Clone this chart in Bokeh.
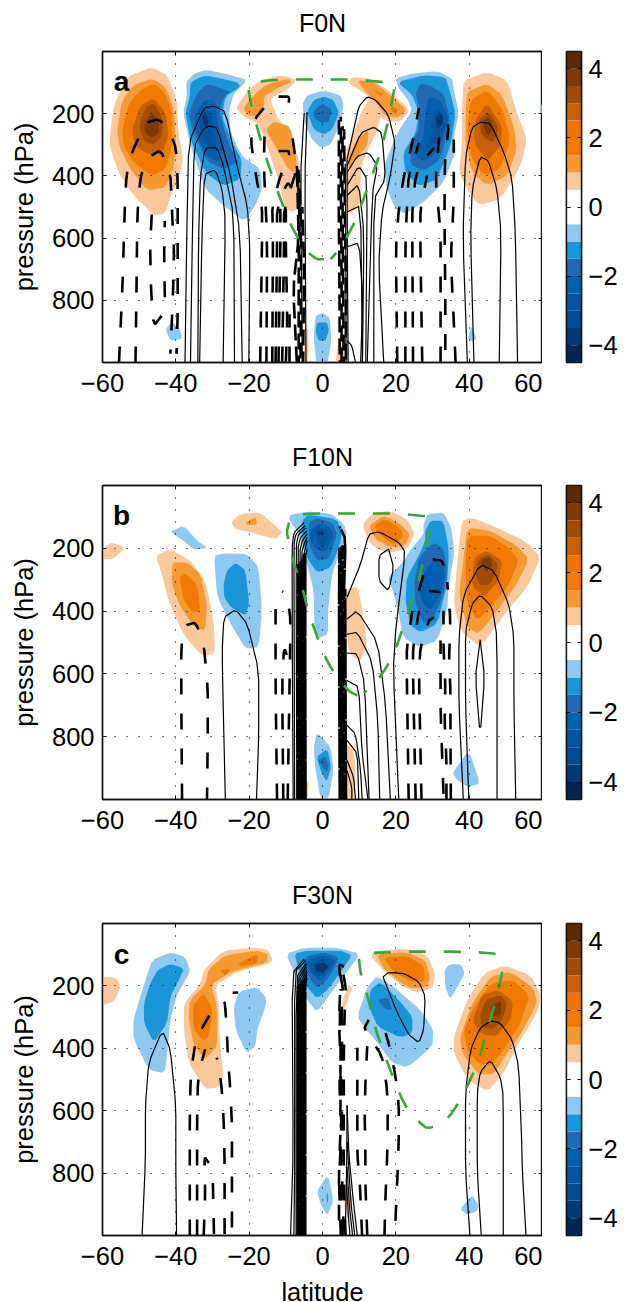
from bokeh.plotting import figure
from bokeh.layouts import column, row
from bokeh.models import LinearAxis, FixedTicker, Range1d
from bokeh.core.properties import value
from bokeh.embed import file_html
from bokeh.resources import INLINE

FONT = "Liberation Sans"
LEVELS = [-4.5,-4,-3.5,-3,-2.5,-2,-1.5,-1,-0.5,0.5,1,1.5,2,2.5,3,3.5,4,4.5]
BAND_COLORS = ["#02264f","#033a75","#004a90","#0055a0","#0060b0","#2069b5","#1a96d8","#8fc8f0","#ffffff",
               "#fbc89b","#f59a33","#f07a00","#ef7300","#c75f05","#a04c05","#7d3a05","#5a2a05"]
COL = {"O1":"#fbc89b","O2":"#f59a33","O3":"#f07a00","O5":"#c75f05","O6":"#a04c05","O7":"#7d3a05",
       "B1":"#8fc8f0","B2":"#1a96d8","B3":"#2069b5","B4":"#0060b0","B5":"#0055a0","B6":"#033a75"}
X_TICKS = [-60,-40,-20,0,20,40,60]
Y_TICKS = [200,400,600,800]
CB_TICKS = [-4,-2,0,2,4]

# ---------------- panel a: filled regions (latitude, hPa)
a_o1 = [(-58,273),(-57,177),(-53.4,82),(-46.5,50),(-42.4,76),(-39.7,156),(-39.3,262),(-38,347),(-39.3,411),(-41,453),(-42.9,522),(-46,526),(-51.5,464),(-55.6,390),(-58,305)]
a_o2 = [(-56,251),(-54.6,156),(-51.5,108),(-46.5,87),(-42.8,113),(-40.5,188),(-40,294),(-40.5,368),(-42.8,437),(-47.8,447),(-52.4,378),(-55.5,304)]
a_o3 = [(-54.6,251),(-52.8,166),(-49.6,124),(-46,103),(-42.8,135),(-41,198),(-41,304),(-42.8,378),(-46.5,400),(-51.5,357),(-54.2,304)]
a_o5 = [(-52,251),(-49.6,172),(-46,150),(-42.8,198),(-42,272),(-43.7,325),(-47.4,331),(-51,304)]
a_o6 = [(-50,241),(-48.3,182),(-46,166),(-43.7,209),(-43.7,272),(-46,299),(-48.7,288)]
a_o7 = [(-48.7,235),(-46.5,198),(-44.6,225),(-44.6,262),(-46.5,278),(-48.3,262)]
a_b1 = [(-37.2,98),(-35,71),(-31.5,58),(-25,76),(-20.5,92),(-24.2,135),(-25.5,188),(-25,262),(-22,336),(-17,378),(-16.5,442),(-18.3,495),(-21.3,546),(-27,495),(-32,442),(-36,304),(-38,198),(-37,145)]
a_b2 = [(-36,98),(-32,76),(-23.3,98),(-22.4,113),(-26.5,145),(-27.4,209),(-24.6,294),(-22,347),(-22.4,410),(-27,433),(-32,389),(-36,283),(-37.4,198),(-36.2,145)]
a_b3 = [(-34.2,135),(-31.5,103),(-25,129),(-26.5,140),(-28.3,188),(-26,283),(-23.3,357),(-27,378),(-31.5,352),(-35.5,251),(-36.5,198)]
a_b4 = [(-35,209),(-32.4,156),(-29.2,156),(-28.7,219),(-27,304),(-28.3,357),(-31.5,336),(-34.2,272)]
a_b5 = [(-33.7,209),(-32,182),(-30,209),(-29.6,272),(-28.3,325),(-31,309),(-33.3,262)]
a_b6 = [(-32.8,209),(-32,198),(-31,219),(-31.5,246),(-32.5,235)]
a_m1 = [(-23.7,182),(-20.5,129),(-17,92),(-11,76),(-7,92),(-9.6,124),(-14.2,150),(-13.7,172),(-12,219),(-8.7,262),(-6.5,347),(-5.5,453),(-6.5,506),(-8.7,516),(-10.5,495),(-11.5,431),(-14.2,336),(-16,272),(-17.8,230),(-21.5,209)]
a_m2 = [(-21.6,182),(-18.7,140),(-15.5,108),(-9.6,87),(-8.3,98),(-11.5,113),(-16,145),(-16,177),(-17.8,209),(-20.5,204)]
a_m3 = [(-13.3,225),(-8.7,241),(-7,357),(-7.8,389),(-9.6,373),(-12.4,315),(-15.5,251)]
a_r1 = [(6.7,98),(8.5,82),(13,87),(18.5,129),(23.8,188),(21.3,225),(17.6,225),(15.8,209),(15,251),(10.4,368),(10.4,495),(6.7,527),(6.3,325),(8.5,262),(10.4,198),(12.6,156),(12.2,140)]
a_r2 = [(9.5,92),(14,98),(19,145),(23,188),(20.4,214),(16.7,204),(15,166),(11.3,124)]
a_r3 = [(7.2,336),(9.5,283),(12.6,251),(12.2,304),(9.5,336),(7.2,389)]
a_r4 = [(14,124),(16.7,135),(15.8,145)]
a_r5 = [(18.4,172),(20.8,188),(19,198)]
a_c1 = [(-5.5,172),(-4.2,140),(.4,126),(4.9,140),(5.8,172),(4.5,241),(2.2,299),(-.5,310),(-2.8,283),(-4.6,241)]
a_c2 = [(-4.2,193),(-2.4,156),(.4,145),(3,156),(4.5,198),(2.6,251),(.4,267),(-2.4,251)]
a_c3 = [(-2.5,193),(-.1,166),(2.6,188),(1.7,225),(-.1,230),(-1.9,219)]
a_d1 = [(-2.4,924),(-1.9,850),(-.1,840),(2,856),(2.4,930),(1.3,1010),(-1.5,1010)]
a_d2 = [(-1.9,898),(-1.5,871),(1.3,871),(1.7,898),(.8,930),(-1,930)]
a_s1 = [(-5.5,1010),(-4.2,866),(-3.7,951),(-4.2,1010)]
a_s2 = [(3.5,1010),(4.5,908),(6.7,930),(6.7,1010)]
a_s3 = [(-42.8,893),(-41,868),(-38.7,898),(-38.3,924),(-41.5,930)]
a_s4 = [(39.6,924),(40.6,882),(42,924),(40.8,932)]
a_s5 = [(59.3,182),(60.5,150),(60.5,203),(59.5,198)]
a_e1 = [(19.9,87),(24.5,71),(31.3,63),(35.4,87),(35.8,124),(37.2,198),(35.8,272),(36.3,325),(33,421),(27.6,484),(22.6,522),(19.9,506),(17.6,442),(16.7,368),(20.4,262),(24.5,188),(23,150),(20.8,119)]
a_e2 = [(20.4,98),(27.6,76),(33.5,82),(34.5,119),(36.3,198),(34.9,304),(31.3,410),(26.3,434),(22.6,389),(22,325),(25.4,262),(26.3,198),(24.5,140)]
a_e3 = [(26.7,103),(29,108),(33,135),(34.9,219),(32.2,347),(27.6,384),(24,363),(24,304),(26.3,251),(26.3,177),(25.4,135)]
a_e4 = [(29,145),(32.2,156),(34.5,219),(31.3,325),(27.6,352),(25.4,336),(27.6,272),(28,198)]
a_e5 = [(30.4,188),(32.2,188),(33.5,241),(31.3,294),(28.5,310),(29.5,251)]
a_e6 = [(30.8,209),(32.6,198),(33,230),(31.3,251)]
a_w1 = [(38.5,92),(44.9,66),(50.4,92),(53,198),(55.8,283),(54,368),(48.5,474),(42.6,495),(39.5,442),(37.2,389),(38,304),(38,188)]
a_w2 = [(39.5,129),(44.9,103),(49,140),(52.2,241),(53,315),(50.4,400),(44.9,431),(40.8,389),(39,294),(39,188)]
a_w3 = [(40.4,156),(44.9,124),(49,182),(51.3,283),(48.5,378),(44,400),(40.4,336),(39.5,241)]
a_w5 = [(41.7,219),(44.9,166),(49,241),(48.5,304),(44.9,352),(41.3,294)]
a_w6 = [(42.6,219),(45.4,193),(48,246),(46.7,294),(43.5,272)]
a_w7 = [(43.5,225),(45.4,209),(46.7,251),(44.9,272)]
A_FILLS = [("O1",a_o1),("O2",a_o2),("O3",a_o3),("O5",a_o5),("O6",a_o6),("O7",a_o7),
           ("B1",a_b1),("B2",a_b2),("B3",a_b3),("B4",a_b4),("B5",a_b5),("B6",a_b6),
           ("O1",a_m1),("O2",a_m2),("O2",a_m3),("O1",a_r1),("O2",a_r2),("O2",a_r3),("O3",a_r4),("O3",a_r5),
           ("B1",a_c1),("B2",a_c2),("B3",a_c3),("B1",a_d1),("B2",a_d2),("O1",a_s1),("O1",a_s2),("B1",a_s3),("B1",a_s4),("B1",a_s5),
           ("B1",a_e1),("B2",a_e2),("B3",a_e3),("B4",a_e4),("B5",a_e5),("B6",a_e6),
           ("O1",a_w1),("O2",a_w2),("O3",a_w3),("O5",a_w5),("O6",a_w6),("O7",a_w7)]
# panel a: solid contours
A_SOLID = [
 [(-37.5,1000),(-37,580),(-36.5,294),(-32.4,182),(-29.6,175),(-26.5,193),(-23.3,368),(-20.5,495),(-19.8,634),(-20.1,1000)],
 [(-36,1000),(-35.5,600),(-35,305),(-32.5,250),(-31,239),(-28.7,246),(-25,400),(-22.5,581),(-21.9,1000)],
 [(-34,1000),(-33.8,600),(-33.3,400),(-32,310),(-28.7,310),(-27,368),(-24.2,528),(-24,1000)],
 [(-33.5,1000),(-32.9,600),(-32.2,395),(-29.2,380),(-27.4,443),(-26.5,538),(-27.1,1000)],
 [(39.5,1000),(38.3,600),(39,336),(40.8,245),(43,227),(45.8,231),(49.5,325),(51.7,410),(52.6,580),(53.2,1000)],
 [(41.3,1000),(40.4,600),(40.8,443),(43,338),(45.3,352),(47.6,443),(48.7,580),(48.2,1000)],
 [(6.7,347),(8.5,251),(9.9,177),(12.2,145),(14.5,156),(18,204),(19.8,294),(18.5,400),(16.2,516),(15.3,690),(16.7,1000)],
 [(6.7,368),(10.4,262),(14,243),(16.2,262),(17.2,410),(14,474),(14,1000)],
 [(6.7,389),(9.5,336),(12.6,325),(15,368),(13.6,453),(12.2,1000)],
 [(6.7,431),(9.9,368),(12.2,410),(11.8,1000)],
 [(6.7,463),(9.9,426),(11.3,580),(10.9,1000)],
 [(6.7,516),(10.4,495),(10.9,1000)],
 [(6.7,628),(10,615),(11,792),(10.4,1000)],
 [(6.7,930),(8,946),(9,1000)],
 [(-5.5,1000),(-6,400),(-5,198)],
 [(-4.5,1000),(-4.8,400),(-4.2,195)],
 [(7,1000),(6.8,700),(6.7,347)],
 [(6.4,1000),(6.4,700),(6.2,360)],
]
A_DASH = [
 [(-55.5,1000),(-54.5,739),(-54,527),(-53.5,400),(-52,325),(-48.3,230),(-44.6,217),(-41.5,262),(-40,310),(-39.5,410),(-39.5,633),(-39.5,845),(-39.8,972)],
 [(-51,1000),(-50.7,739),(-50.5,527),(-49.6,400),(-47.4,341),(-44.2,317),(-41.5,390),(-41,527),(-40.5,633),(-40.7,750),(-41,845),(-41.5,972)],
 [(-43.9,850),(-46,882),(-46.8,760),(-47,622),(-46.5,506)],
 [(-43,790),(-43.2,650),(-43,545)],
 [(-17,1000),(-16.5,622),(-16.5,495),(-18,410),(-19.6,283),(-18.3,214),(-16,182)],
 [(-15.3,1000),(-15.1,601),(-16,368),(-15.8,262),(-14.2,256)],
 [(-13.7,1000),(-13.5,601),(-13.7,495),(-11.5,400),(-8.7,320),(-12,320)],
 [(-12.8,1000),(-12.4,633),(-12.4,506),(-9.6,421),(-8.3,437)],
 [(-12,1000),(-11.5,633),(-11.5,506)],
 [(-11,1000),(-10.5,633),(-10.5,506),(-7,378),(-8.7,230)],
 [(-10,1000),(-9.6,856),(-10,633),(-10,506)],
 [(-9,1000),(-9,845)],
 [(-12,145),(-9.1,145),(-9.2,169)],
 [(20.4,1000),(20,633),(20.8,506),(22.2,400),(24.5,294),(26.3,182)],
 [(22.6,1000),(22.6,633),(23,506),(23.5,400),(26.3,294)],
 [(24.7,1000),(24.5,633),(24.5,506),(25.4,400),(28.1,341),(30.4,310)],
 [(27.2,1000),(26.7,633),(26.7,506),(28.5,400)],
 [(32.2,1000),(32.2,750),(32.2,580),(30.8,410),(32,250),(29.5,240)],
 [(33.5,960),(33.5,792),(33.3,580),(33.3,368),(34.5,225),(31.7,190)],
 [(36.3,1000),(35.8,866),(35,665),(35.8,474),(35.8,283)],
]
A_DENSE = [
 [(-7,1000),(-8,760),(-6.5,600),(-7,370)],[(-6.5,1000),(-6.5,700),(-6.3,500),(-7,368)],
 [(-6,1000),(-5.8,700),(-6,480),(-6.6,380)],[(-5.3,1000),(-5,700),(-5.5,500)],
 [(4.7,1000),(4.6,700),(4.4,470),(4.5,220)],[(5.2,1000),(5.2,700),(5,420),(5,210)],
 [(5.8,1000),(5.6,700),(5.4,400),(5.5,240)],[(6.4,1000),(6.3,700),(6,400),(5.9,250)],
]
A_GREEN = [[(0.4,668),(-1.5,668),(-3.7,649),(-6.5,603),(-8.7,557),(-12,458),(-15.1,352),(-17.8,246),(-19.5,169),(-20.4,105),(-16,95),(-11.5,90),(-2,90),(7.6,90),(16.7,98),(19.9,103),(19.6,119),(18,219),(15.8,325),(12.2,442),(9,543),(6.7,596),(4.5,638),(2.2,668)]]

# ---------------- panel b: filled regions
b_e1 = [(-60.5,202),(-57.4,181),(-53.8,198),(-57,234),(-60.5,234)]
b_e2 = [(-41.6,147),(-37.8,128),(-34.2,176),(-31.3,199),(-35,205),(-37.8,176)]
b_t1 = [(-25,118),(-22.4,91),(-17,86),(-13.3,123),(-11,149),(-12.8,171),(-19.6,149),(-23.7,139)]
b_t2 = [(-21,118),(-18.3,100),(-17.8,125),(-20.5,126)]
b_l1 = [(-45.5,224),(-41.5,202),(-36,240),(-32,303),(-29.7,430),(-29.3,536),(-33,542),(-38,473),(-42,367),(-43.8,282)]
b_l2 = [(-41,245),(-37,245),(-33.3,282),(-31.5,377),(-32,462),(-35,451),(-39.2,377),(-41,314)]
b_l3 = [(-39,293),(-37.4,280),(-34.2,314),(-33.3,399),(-35.5,404),(-37.8,367)]
b_b1 = [(-29.6,224),(-27,216),(-20.6,218),(-17.4,261),(-16.5,399),(-17.4,515),(-21,520),(-25,441),(-28.7,356)]
b_b2 = [(-27,314),(-26,271),(-23.7,245),(-21,271),(-20,377),(-21,414),(-25,388),(-26.8,356)]
b_c1 = [(-9.6,96),(-4.2,83),(2.2,89),(5.8,123),(6.7,155),(5.3,197),(2.6,282),(1.5,398),(1.5,473),(-1.5,489),(-2.2,452),(-2.4,335),(-4.2,250),(-6,165)]
b_c2 = [(-5.5,112),(-4,93),(4,107),(5.3,155),(4.4,202),(2.2,261),(-1.5,277),(-4.2,230),(-5.5,165)]
b_c3 = [(-3.7,118),(-1.5,104),(2.6,118),(4,155),(1.7,234),(-1.5,240),(-3.7,187)]
b_c4 = [(-3.3,144),(-.5,118),(2.2,134),(3,165),(1,208),(-1.5,208),(-3.3,176)]
b_c5 = [(-2.4,144),(-.1,128),(1.7,155),(.8,192),(-1,192)]
b_c6 = [(-1.5,149),(-.1,142),(.4,157),(-1,160)]
b_r1 = [(10.8,123),(14,86),(18.5,81),(23,107),(25.2,155),(23,202),(17.6,216),(13,187)]
b_r2 = [(12.6,128),(16.7,96),(21.3,123),(23.8,155),(22.6,192),(18.5,197),(14.5,171)]
b_r3 = [(14,128),(17.2,107),(21.3,139),(22.2,165),(19,187),(15.8,160)]
b_m1 = [(6.5,331),(9.7,321),(11,409),(12.2,505),(10.2,563),(7.2,531),(6.5,452)]
b_m2 = [(6.7,823),(8.5,844),(9,907),(8.5,1010),(4.5,1010),(4.7,875)]
b_m3 = [(-5,935),(-3.7,945),(-4.2,1010),(-5.5,1010)]
b_d1 = [(-2.4,833),(-1.5,785),(2.2,833),(3,907),(1.7,998),(-.5,998),(-1.9,907)]
b_d2 = [(-1.6,865),(1.3,838),(2.4,897),(1.1,944),(-.5,907)]
b_d3 = [(-1.3,875),(.8,863),(1.7,897),(1.1,913)]
b_f1 = [(35.6,913),(39.9,842),(43,950),(39.5,960),(36.3,934)]
b_g1 = [(27.5,128),(28.6,91),(33,86),(35.1,134),(36,208),(34.4,324),(34,398),(31.3,494),(26.3,515),(22,483),(20.6,399),(19.2,335),(17.8,293),(21.9,245),(24,205),(27.6,155)]
b_g2 = [(28,144),(29.5,112),(33,112),(34.5,208),(34,314),(31.3,441),(26.7,467),(24,446),(22.6,367),(23,293),(26.7,213),(28,176)]
b_g3 = [(26.3,229),(30.4,181),(33,202),(34,271),(33,346),(30.4,420),(27.6,441),(25.4,377),(25,314)]
b_g4 = [(28,271),(30.8,234),(33.5,271),(32.6,335),(29.5,399),(27.2,373),(26.3,324)]
b_w1 = [(38,112),(40.7,102),(47.5,134),(55.8,181),(59.5,229),(55.8,324),(50.4,399),(43,515),(37.6,462),(35.8,377),(36.7,250)]
b_w2 = [(39.5,134),(45.8,144),(53,192),(56.3,234),(53,314),(47.6,399),(42.6,473),(39.5,452),(37.2,346),(38.5,229)]
b_w3 = [(39.5,160),(45.8,160),(51.3,202),(53.5,240),(50.4,324),(45.8,388),(42.2,430),(39.5,377),(39,271)]
b_w5 = [(41.3,229),(44.9,208),(49,240),(48,303),(44,356),(40.8,319)]
b_w6 = [(42.6,234),(45.4,218),(48,255),(45.8,314),(43,319),(41.7,282)]
b_w7 = [(43,240),(45.8,227),(46.3,261),(44.5,277)]
B_FILLS = [("O1",b_e1),("B1",b_e2),("O1",b_t1),("O2",b_t2),("O1",b_l1),("O2",b_l2),("O3",b_l3),("B1",b_b1),("B2",b_b2),
           ("B1",b_c1),("B2",b_c2),("B3",b_c3),("B4",b_c4),("B5",b_c5),("B6",b_c6),("O1",b_r1),("O2",b_r2),("O3",b_r3),
           ("O1",b_m1),("O1",b_m2),("O1",b_m3),("B1",b_d1),("B2",b_d2),("B3",b_d3),("B1",b_f1),
           ("B1",b_g1),("B2",b_g2),("B3",b_g3),("B4",b_g4),("O1",b_w1),("O2",b_w2),("O3",b_w3),("O5",b_w5),("O6",b_w6),("O7",b_w7)]
B_SOLID = [
 [(38.4,1000),(37.2,695),(37.2,483),(38.5,346),(43,252),(46.7,271),(50.8,377),(52.2,483),(52.2,695),(52.7,1000)],
 [(39.9,1000),(39,695),(39,462),(40.8,377),(43,348),(46.3,388),(47.6,483),(47.6,1000)],
 [(43,491),(41.7,610),(43,798),(44.2,610),(43,491)],
 [(-26.5,1000),(-27.4,536),(-26.9,420),(-23.7,395),(-20.5,441),(-17.4,589),(-17.4,801),(-18,1000)],
 [(6.7,356),(10.4,250),(12.6,155),(15.4,147),(20.8,181),(22.6,213),(20,452),(19.3,589),(20.8,1000)],
 [(18,202),(15.4,224),(15.4,303),(18,337),(19.4,261),(18,202)],
 [(6.7,425),(9.5,399),(15,499),(17.2,695),(18.5,1000)],
 [(6.7,474),(9.5,467),(13.6,563),(15.1,748),(15.6,1000)],
 [(6.7,534),(9.5,536),(11.5,632),(12.7,1000)],
 [(6.7,621),(9.9,642),(10.8,854),(12.4,1000)],
 [(6.7,764),(9,791),(10.4,907),(10.8,1000)],
 [(6.7,812),(9.5,854),(9.9,1000)],
 [(6.7,875),(8.5,929),(9,1000)],
 [(6.7,907),(8,961),(8,1000)],
 [(-8,1000),(-8.2,600),(-8.3,197),(-7.8,150),(-5,118)],
 [(-7.6,1000),(-7.7,600),(-7.8,190),(-7.3,155),(-4.8,128)],
 [(-7,1000),(-7.2,190),(-6.5,155),(-4.5,135)],
 [(-6.5,1000),(-6.7,200),(-6,165),(-4.3,145)],
 [(-6,1000),(-6.2,210),(-5.5,175),(-4.2,155)],
 [(-5.5,1000),(-5.7,215),(-5,185),(-4.2,165)],
 [(-5,1000),(-5.2,225),(-4.6,195),(-4.2,175)],
 [(-4.5,1000),(-4.8,230),(-4.2,205)],
]
B_DASH = [
 [(-38.3,1000),(-38.5,695),(-38.5,505),(-37.4,446),(-34.6,436),(-32.4,505),(-31.3,642),(-31.3,801),(-31.5,1000)],
 [(-12.4,1000),(-12.8,632),(-12.8,393)],
 [(-10.7,1000),(-11,632),(-10.5,515),(-9,563)],
 [(-9.5,1000),(-9,642),(-8.7,430),(-9.6,346),(-11,337)],
 [(23.5,1000),(23,610),(23,515),(24.5,399)],
 [(25.4,1000),(24.7,610),(24.7,515),(26.3,399)],
 [(27,1000),(26.3,610),(26.7,515),(29,430),(30.4,420)],
 [(26.3,335),(27.6,282),(29.5,234),(32.6,240),(33,255)],
 [(29,335),(32.2,340)],
 [(33,982),(32.2,717),(32.2,600),(32.2,494)],
 [(33.8,1000),(33.8,876),(33.3,748),(33.5,632),(33,515),(33,399)],
 [(35,1000),(34.9,801),(34.9,653),(34.5,558),(34.9,430),(34,308)],
]
B_DENSE = [
 [(-6.8,1000),(-6.6,700),(-6.6,250)],[(-6.3,1000),(-6.3,700),(-6.2,245)],[(-5.9,1000),(-5.9,700),(-5.9,240)],
 [(-5.5,1000),(-5.5,700),(-5.5,230)],[(-5.1,1000),(-5.1,700),(-5.1,220)],[(-4.7,1000),(-4.7,700),(-4.7,215)],
 [(4.7,1000),(4.6,700),(4.5,400),(4.6,200)],[(5.1,1000),(5.1,700),(5,400),(5,195)],[(5.5,1000),(5.4,700),(5.4,400),(5.5,190)],
 [(5.9,1000),(5.8,700),(5.7,400),(6.3,170),(4.6,130)],[(6.4,1000),(6.3,700),(6.2,330)],
]
B_GREEN = [[(9.5,669),(7.2,655),(4,611),(1.7,568),(-.5,515),(-1.9,467),(-3.7,409),(-6,303),(-7.8,250),(-8.7,197),(-9.8,149),(-8.7,99),(-5,91),(.4,89),(9.9,89),(19.5,89),(24,93),(29,99),(29.7,112),(28.5,187),(26.3,303),(23.5,399),(20,520),(17.2,584),(14.9,621),(11.3,661)]]

# ---------------- panel c: filled regions
c_e1 = [(-60.5,171),(-56.4,173),(-55,200),(-56.8,250),(-60.5,264)]
c_a1 = [(-46.5,118),(-41.5,92),(-37.4,108),(-36,155),(-39.6,224),(-41.5,308),(-42.8,467),(-43.7,479),(-47.4,467),(-51.5,372),(-51.6,308),(-48.3,182)]
c_a2 = [(-45,150),(-41.5,129),(-37.8,144),(-39.2,182),(-41.5,234),(-42.4,319),(-46,382),(-48.7,319),(-48.7,256),(-47,192)]
c_o1 = [(-32.4,150),(-27,87),(-18.7,78),(-15,82),(-13.3,124),(-23.3,155),(-29.2,197),(-28.3,266),(-28.3,340),(-27,488),(-28.3,525),(-32,530),(-36.5,446),(-37.8,340),(-37.8,256),(-33.3,192)]
c_o2 = [(-31,145),(-26.5,102),(-17.8,87),(-15,97),(-15,124),(-25,155),(-30.5,197),(-28.7,266),(-28.7,393),(-32,435),(-35,393),(-36.5,308),(-36.2,245),(-32,197)]
c_o3 = [(-35.5,266),(-32.4,224),(-30,271),(-31,361),(-32.4,377),(-35,340)]
c_o4 = [(-23,129),(-17.8,97),(-17.8,129),(-22.4,137)]
c_o5 = [(-28,150),(-25,145),(-26.5,166)]
c_c1 = [(-10,97),(-5,78),(4,78),(10.2,97),(6.7,155),(3.5,203),(-1.5,285),(-4.2,245),(-7,176)]
c_c2 = [(-7.6,97),(-4.2,87),(4.9,87),(8,102),(4.9,155),(1.7,208),(-1.5,240),(-4.2,203),(-6.5,150)]
c_c3 = [(-5,108),(.4,92),(4.5,108),(3,150),(.8,187),(-1.5,208),(-3.7,171)]
c_c4 = [(-4.2,118),(.4,102),(3.5,118),(1.7,155),(-.5,187),(-3.3,155)]
c_c5 = [(-3.7,129),(.4,113),(2.6,129),(.8,160),(-1,171),(-2.8,150)]
c_c6 = [(-2.4,134),(.4,124),(1.7,139),(.4,155),(-1.5,155)]
c_r1 = [(13,102),(14.9,87),(23,81),(28.6,102),(30.7,160),(30,208),(25.5,222),(21.4,197),(16.9,155)]
c_r2 = [(14.9,97),(23,92),(28,118),(29.4,171),(28.5,203),(24,208),(20.4,182),(16.3,139)]
c_r3 = [(16.7,108),(23,105),(27.6,134),(28,187),(24,187),(19,150)]
c_s1 = [(9.5,298),(12.2,203),(14.9,169),(19.4,203),(26.7,277),(30.2,340),(30,393),(23.2,461),(19,446),(15,382),(11.3,330)]
c_s2 = [(12.7,266),(13,213),(15.8,187),(20.8,245),(24.5,298),(24.5,350),(21.3,366),(15,330)]
c_s3 = [(15,245),(18,237),(19,279),(16.7,271)]
c_n1 = [(33.3,150),(34.5,131),(37.7,131),(38.8,160),(36.8,203),(34.8,242),(33.5,203)]
c_n2 = [(-24.2,266),(-22.8,219),(-17.8,203),(-15,245),(-17.8,340),(-18.3,393),(-20.7,416),(-23.7,340)]
c_w1 = [(35.8,361),(39.5,245),(44,160),(49.5,134),(56.8,166),(59.7,234),(58.5,287),(54,372),(49.5,477),(45,539),(39.5,499),(35.8,414)]
c_w2 = [(37.6,361),(40.8,256),(45.8,171),(51.3,155),(57.7,208),(58.5,256),(54,356),(50.4,414),(46.7,483),(42.6,483),(38,414)]
c_w3 = [(38.5,346),(41.3,266),(45.8,192),(52,182),(56.5,229),(54,319),(49.5,403),(45.8,456),(42.2,446),(39.5,403)]
c_w5 = [(41.3,298),(43.5,229),(48,213),(52,250),(51.3,308),(47.6,361),(43.5,356),(41.3,319)]
c_w6 = [(42.9,298),(44.5,245),(48.5,229),(50.4,256),(49,308),(46.3,340),(43.5,329)]
c_w7 = [(45.8,266),(48.7,247),(48.7,293),(46.3,298)]
c_d1 = [(-1.5,857),(1.5,805),(3,889),(1.3,937),(-.5,900)]
c_d2 = [(1.1,873),(1.3,860),(1.6,879),(1.3,900)]
c_f1 = [(37.5,916),(40.8,870),(42.6,905),(42.2,921),(39.5,933)]
c_g1 = [(5.4,245),(7.2,197),(8,203),(6.7,256),(5.4,287)]
c_g2 = [(6.3,826),(8.1,868),(7.2,963),(5.8,900)]
C_FILLS = [("O1",c_e1),("B1",c_a1),("B2",c_a2),("O1",c_o1),("O2",c_o2),("O3",c_o3),("O3",c_o4),("O3",c_o5),
           ("B1",c_c1),("B2",c_c2),("B3",c_c3),("B4",c_c4),("B5",c_c5),("B6",c_c6),("O1",c_r1),("O2",c_r2),("O3",c_r3),
           ("B1",c_s1),("B2",c_s2),("B3",c_s3),("B1",c_n1),("B1",c_n2),
           ("O1",c_w1),("O2",c_w2),("O3",c_w3),("O5",c_w5),("O6",c_w6),("O7",c_w7),
           ("B1",c_d1),("B2",c_d2),("B1",c_f1),("O1",c_g1),("O1",c_g2)]
C_SOLID = [
 [(-49.2,1000),(-48.3,762),(-48.3,583),(-47.4,446),(-43.7,343),(-41.5,403),(-40,583),(-40,794),(-39.8,1000)],
 [(40.2,1000),(39,794),(39,541),(40.4,403),(43,335),(45.8,312),(48.5,319),(51.7,372),(53.5,456),(54.3,689),(54.5,794),(55.5,1000)],
 [(43.3,1000),(42.2,794),(42.2,541),(43,477),(45.8,437),(48.5,493),(49.3,551),(49.3,1000)],
 [(16.5,171),(18,157),(22.2,160),(26.3,187),(28,234),(27.6,340),(26.3,382),(23.5,356),(20.4,287),(16.5,171)],
 [(6.7,583),(7.2,741),(8.5,900),(9.5,1000)],
 [(6.7,700),(7.8,900),(8.8,1000)],
 [(6.7,780),(7.3,900),(8.2,1000)],
 [(6.5,820),(7,930),(7.5,1000)],
 [(6.7,583),(6.6,780),(6.2,1000)],
 [(-8.7,1000),(-8,731),(-8.3,161),(-5,113)],
 [(-7.8,1000),(-7.6,773),(-7.6,155),(-4.6,118)],
 [(-7.2,1000),(-7.2,175),(-4.4,125)],
 [(-6.8,1000),(-6.8,180),(-4.3,132)],
 [(-6.4,1000),(-6.4,185),(-4.3,140)],
 [(-6,1000),(-6,190),(-4.2,148)],
 [(-5.6,1000),(-5.6,195),(-4.2,156)],
 [(-5.2,1000),(-5.2,200),(-4.2,165)],
 [(-4.8,1000),(-4.8,205),(-4.2,175)],
]
C_DASH = [
 [(-36.2,1000),(-36.2,751),(-36.2,635),(-36,510),(-35.5,446),(-34.8,393)],
 [(-34.2,1000),(-34.2,836),(-34.2,635),(-34,510),(-33,446),(-32,403)],
 [(-32.4,1000),(-32,868),(-32.2,747),(-31,768)],
 [(-29.6,995),(-29.9,826)],
 [(-26.7,995),(-26.7,773),(-26.9,646),(-27.4,541),(-28.3,446),(-28.9,430)],
 [(-24.7,974),(-24.7,762),(-24.7,646),(-25.1,541),(-25.8,425),(-26.2,319),(-26.7,245),(-28.5,253)],
 [(-32.9,337),(-30.9,295)],
 [(-24.5,222),(-23,221)],
 [(10.8,1000),(10.2,836),(9.5,741),(9.5,615),(9.5,509),(9.5,398)],
 [(12.2,1000),(11.7,836),(11.7,731),(11.5,615),(11.7,509),(12.2,393)],
 [(16.9,1000),(17.2,868),(17.6,762),(17.8,635),(17.6,530),(16.3,425),(11.3,338),(12.6,309)],
 [(19.9,953),(20.5,794),(20.8,689),(20.8,583),(19.9,488),(18,382),(17.2,351)],
 [(4.5,953),(4.5,794),(4.9,667),(4.9,541),(4.9,446),(4.5,308),(4.9,192),(4.5,129),(6.7,145)],
 [(5.5,1000),(5,800),(5.4,650),(5.2,520),(5.5,440),(5.2,300),(5.6,210),(4.6,148)],
 [(6.3,1000),(5.8,830),(5.8,650),(5.8,520),(5.8,440),(6,300),(6.4,210),(5.5,150)],
 [(5,1000),(4.5,830),(5.2,650),(4.6,520),(5,440),(4.7,300),(5,210)],
 [(5.8,990),(5.3,800),(4.8,690),(5.5,570),(4.8,470),(5.5,350),(5.2,250)],
]
C_DENSE = [
 [(-6.8,1000),(-6.7,200)],[(-6.3,1000),(-6.3,195)],[(-5.9,1000),(-5.9,190)],
 [(-5.5,1000),(-5.5,185)],[(-5.1,1000),(-5.1,180)],[(-4.7,1000),(-4.7,175)],
]
C_GREEN = [[(14,94),(23.5,90),(33,90),(42.6,92),(47.2,97)],
           [(9.9,113),(10.5,166),(12.2,229),(14.5,340),(18,456),(22.2,578),(26.3,636),(28.5,657),(33,641),(35.8,599),(38.5,546),(40.4,498),(42.6,440),(44.9,340),(47.6,234),(49.5,129)]]

CUT = 0.15

def rounded(pts, closed):
    out = []
    m = len(pts)
    rng = range(m) if closed else range(m - 1)
    if not closed:
        out.append(pts[0])
    for i in rng:
        a, b = pts[i], pts[(i + 1) % m]
        out.append(((1-CUT)*a[0]+CUT*b[0], (1-CUT)*a[1]+CUT*b[1]))
        out.append((CUT*a[0]+(1-CUT)*b[0], CUT*a[1]+(1-CUT)*b[1]))
    if not closed:
        out.append(pts[-1])
    return out

def style_axis(ax, size):
    ax.major_label_text_font = FONT
    ax.major_label_text_font_size = size
    ax.major_label_text_color = "#000000"
    ax.axis_label_text_font = FONT
    ax.axis_label_text_font_size = "25.5px"
    ax.axis_label_text_font_style = "normal"
    ax.axis_label_text_color = "#000000"
    ax.major_tick_in = 4
    ax.major_tick_out = 0
    ax.minor_tick_in = 0
    ax.minor_tick_out = 0
    ax.axis_line_color = "#111111"
    ax.major_tick_line_color = "#111111"
    ax.axis_line_width = 1.4

def mirror(p, loc, ticks, label=None):
    ax = LinearAxis(ticker=FixedTicker(ticks=ticks), major_tick_in=4, major_tick_out=0,
                    minor_tick_in=0, minor_tick_out=0, major_label_standoff=0,
                    major_label_text_font_size="0px", axis_line_color="#111111",
                    axis_line_width=1.4, major_tick_line_color="#111111",
                    major_label_text_color=None)
    if label:
        ax.axis_label = label
        ax.axis_label_text_font = FONT
        ax.axis_label_text_font_size = "25px"
        ax.axis_label_text_font_style = "normal"
        ax.axis_label_text_color = "#000000"
        ax.axis_label_standoff = 15
    p.add_layout(ax, loc)

def panel(title, letter, letter_pos, fills, solid, dash, dense, dense_dash, green, top, total):
    p = figure(width=542, height=total, output_backend="svg", toolbar_location=None,
               x_range=Range1d(-60, 60), y_range=Range1d(1000, 0),
               min_border_left=102, min_border_right=0, min_border_top=top,
               min_border_bottom=total - top - 314, background_fill_color="#ffffff")
    for key, pts in fills:
        q = rounded(pts, True)
        p.patch([a for a, _ in q], [b for _, b in q], fill_color=COL[key], line_color=None)
    for i, pts in enumerate(dense):
        q = rounded(pts, False)
        p.line([a for a, _ in q], [b for _, b in q], line_color="#000000", line_width=2.6,
               line_dash=dense_dash, line_dash_offset=(i * 9) % 22)
    for pts in dash:
        q = rounded(pts, False)
        p.line([a for a, _ in q], [b for _, b in q], line_color="#000000", line_width=2.6, line_dash="16 19")
    for pts in solid:
        q = rounded(pts, False)
        p.line([a for a, _ in q], [b for _, b in q], line_color="#000000", line_width=1.2)
    for pts in green:
        q = rounded(pts, False)
        p.line([a for a, _ in q], [b for _, b in q], line_color="#35a835", line_width=2.6, line_dash="17 18")
    p.text(x=[letter_pos[0]], y=[letter_pos[1]], text=[letter], text_font=value(FONT), text_font_size="28px",
           text_font_style="bold", text_align="center", text_baseline="middle", text_color="#000000")
    xa, ya = p.xaxis[0], p.yaxis[0]
    xa.ticker = FixedTicker(ticks=X_TICKS)
    ya.ticker = FixedTicker(ticks=Y_TICKS)
    xa.major_label_overrides = {t: str(t).replace("-", "\u2212") for t in X_TICKS}
    style_axis(xa, "25.5px")
    style_axis(ya, "25.5px")
    xa.major_label_standoff = 11
    ya.major_label_standoff = 8
    ya.axis_label = "pressure (hPa)"
    ya.axis_label_standoff = 11
    for g, ticks in ((p.xgrid[0], X_TICKS[1:-1]), (p.ygrid[0], Y_TICKS)):
        g.ticker = FixedTicker(ticks=ticks)
        g.grid_line_color = "#000000"
        g.grid_line_width = 1
        g.grid_line_dash = "1 11"
        g.level = "overlay"
    mirror(p, "above", X_TICKS, title)
    mirror(p, "right", Y_TICKS)
    p.outline_line_color = "#111111"
    p.outline_line_width = 1.4
    return p

def colorbar(top, total):
    c = figure(width=86, height=total, output_backend="svg", toolbar_location=None,
               x_range=Range1d(0, 1), y_range=Range1d(-4.5, 4.5), y_axis_location="right",
               min_border_left=24, min_border_right=47, min_border_top=top,
               min_border_bottom=total - top - 319, background_fill_color="#ffffff")
    c.quad(left=0, right=1, bottom=LEVELS[:-1], top=LEVELS[1:], fill_color=BAND_COLORS, line_color=None)
    c.xaxis.visible = False
    c.xgrid.visible = False
    c.ygrid.visible = False
    ya = c.yaxis[0]
    ya.ticker = FixedTicker(ticks=CB_TICKS)
    ya.major_label_overrides = {t: str(t).replace("-", "\u2212") for t in CB_TICKS}
    style_axis(ya, "25.5px")
    ya.major_label_standoff = 7
    mirror(c, "left", CB_TICKS)
    c.outline_line_color = "#111111"
    c.outline_line_width = 1.4
    return c

def footer(text):
    f = figure(width=542, height=24, output_backend="svg", toolbar_location=None,
               x_range=Range1d(-60, 60), y_range=Range1d(0, 1),
               min_border_left=102, min_border_right=0, min_border_top=0, min_border_bottom=0,
               background_fill_color="#ffffff")
    f.axis.visible = False
    f.grid.visible = False
    f.outline_line_color = None
    f.text(x=[0], y=[0.45], text=[text], text_font=value(FONT), text_font_size="25.5px",
           text_align="center", text_baseline="middle", text_color="#000000")
    return f

pa = panel("F0N", "a", (-54.8, 97), A_FILLS, A_SOLID, A_DASH, A_DENSE, "16 6", A_GREEN, 48, 430)
pb = panel("F10N", "b", (-54.8, 97), B_FILLS, B_SOLID, B_DASH, B_DENSE, "40 1", B_GREEN, 55, 435)
pc = panel("F30N", "c", (-54.8, 100), C_FILLS, C_SOLID, C_DASH, C_DENSE, "40 1", C_GREEN, 56, 413)
page = column(row(pa, colorbar(51, 430)), row(pb, colorbar(55, 435)), row(pc, colorbar(58, 413)), footer("latitude"))
open("out.html", "w").write(file_html(page, INLINE))
